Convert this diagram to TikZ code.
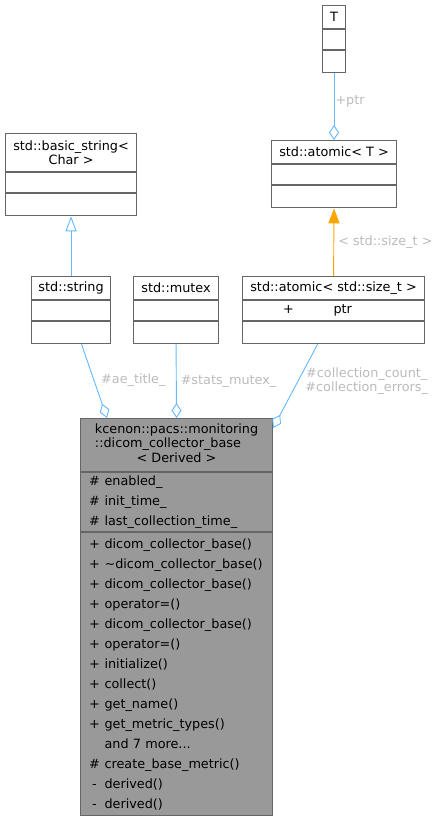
\documentclass[tikz,border=0pt]{standalone}
\usepackage{fontspec}
\setmainfont{DejaVu Sans}
\usepackage{tikz}
\usetikzlibrary{shapes,fit,calc,positioning,arrows.meta}

\definecolor{clsborder}{HTML}{666666}
\definecolor{mainfill}{HTML}{999999}
\definecolor{edgeblue}{HTML}{63B8FF}
\definecolor{tmplorange}{HTML}{FFA500}
\definecolor{lblgray}{HTML}{BBBBBB}
\newcommand{\vis}[1]{\makebox[20pt][c]{#1}}

\tikzset{
  box/.style={draw=clsborder, line width=1.1pt, fill=white, inner sep=0pt, minimum width=#1pt},
  clshead/.style={box=#1, minimum height=23pt, anchor=north west},
  clsmid/.style={box=#1, minimum height=20pt},
  clslow/.style={box=#1, minimum height=22pt},
  agg/.style={draw=edgeblue, line width=0.9pt, -{Diamond[open, length=15pt, width=10pt]}},
  inh/.style={draw=edgeblue, line width=0.9pt, -{Triangle[open, length=15pt, width=11pt]}},
  tmpl/.style={draw=tmplorange, line width=0.9pt, -{Triangle[length=15pt, width=11pt]}},
  lbl/.style={text=lblgray, inner sep=1pt}
}

\begin{document}
\begin{tikzpicture}[x=1pt, y=-1pt, font=\fontsize{12.8}{14.5}\selectfont]
    \useasboundingbox (0,0) rectangle (440,819);
    % class boxes
    \node[clshead=23] (T) at (322,5) {T};
    \node[clsmid=23, below=0pt of T] (T-a) {};
    \node[clslow=23, below=0pt of T-a] (T-m) {};

    \node[clshead=125] (atT) at (271,140) {std::atomic< T >};
    \node[clsmid=125, below=0pt of atT] (atT-a) {};
    \node[clslow=125, below=0pt of atT-a] (atT-m) {};

    \node[clshead=182] (atS) at (242,276) {std::atomic< std::size\_t >};
    \node[clsmid=182, below=0pt of atS] (atS-a) {\makebox[90pt][c]{+}\makebox[90pt][l]{ptr}};
    \node[clslow=182, below=0pt of atS-a] (atS-m) {};

    \node[clshead=131, minimum height=38pt, align=center] (bstr) at (5,133) {std::basic\_string<\\Char >};
    \node[clsmid=131, below=0pt of bstr] (bstr-a) {};
    \node[clslow=131, below=0pt of bstr-a] (bstr-m) {};

    \node[clshead=79] (str) at (31,276) {std::string};
    \node[clsmid=79, below=0pt of str] (str-a) {};
    \node[clslow=79, below=0pt of str-a] (str-m) {};

    \node[clshead=85] (mtx) at (133,276) {std::mutex};
    \node[clsmid=85, below=0pt of mtx] (mtx-a) {};
    \node[clslow=85, below=0pt of mtx-a] (mtx-m) {};

    % the collector itself
    \node[clshead=192, fill=mainfill, minimum height=53pt] (base) at (80,418)
      {\begin{tabular}{@{}l@{}}kcenon::pacs::monitoring\\::dicom\_collector\_base\\\multicolumn{1}{@{}c@{}}{< Derived >}\end{tabular}};
    \node[box=192, fill=mainfill, minimum height=59pt, inner xsep=4pt, text width=184pt, align=left,
      font=\fontsize{12.8}{20}\selectfont, below=0pt of base] (base-a)
      {\vis{\#}enabled\_\\\vis{\#}init\_time\_\\\vis{\#}last\_collection\_time\_};
    \node[box=192, fill=mainfill, minimum height=283pt, inner xsep=4pt, text width=184pt, align=left,
      font=\fontsize{12.8}{20}\selectfont, below=0pt of base-a] (base-m)
      {\vis{+}dicom\_collector\_base()\\
       \vis{+}\textasciitilde dicom\_collector\_base()\\
       \vis{+}dicom\_collector\_base()\\
       \vis{+}operator=()\\
       \vis{+}dicom\_collector\_base()\\
       \vis{+}operator=()\\
       \vis{+}initialize()\\
       \vis{+}collect()\\
       \vis{+}get\_name()\\
       \vis{+}get\_metric\_types()\\
       \vis{}and 7 more...\\
       \vis{\#}create\_base\_metric()\\
       \vis{-}derived()\\
       \vis{-}derived()};

    % relations
    \draw[agg] (T-m.south) -- node[lbl, pos=.42, right] {+ptr} (atT.north);
    \draw[tmpl] (atS.north) -- node[lbl, right=3pt] {< std::size\_t >} (atT-m.south);
    \draw[inh] (str.north) -- (bstr-m.south);
    \draw[agg] ($(str-m.south)+(10.5,0)$) -- node[lbl, pos=.48, right=6pt] {\#ae\_title\_} ($(base.north west)+(27,0)$);
    \draw[agg] (mtx-m.south) -- node[lbl, right=3pt] {\#stats\_mutex\_} (base.north);
    \draw[agg] ($(atS-m.south)+(-16,0)$) -- node[lbl, pos=.44, right=6pt, align=center]
      {\#collection\_count\_\\\#collection\_errors\_} ($(base.north east)+(0,10)$);
\end{tikzpicture}
\end{document}
